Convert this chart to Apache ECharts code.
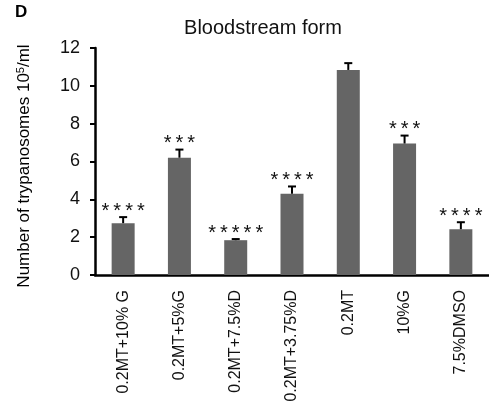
<!DOCTYPE html>
<html>
<head>
<meta charset="utf-8">
<script src="https://cdn.jsdelivr.net/npm/echarts@6/dist/echarts.min.js"></script>
<style>html,body{margin:0;padding:0;background:#fff;}#c{width:489px;height:405px;}</style>
</head>
<body>
<div id="c"></div>
<script>
var categories = ['0.2MT+10% G', '0.2MT+5%G', '0.2MT+7.5%D', '0.2MT+3.75%D', '0.2MT', '10%G', '7.5%DMSO'];
var means = [2.74, 6.2, 1.84, 4.3, 10.84, 6.95, 2.42];
var errors = [0.32, 0.43, 0.06, 0.38, 0.36, 0.42, 0.37];
var stars = ['****', '***', '*****', '****', '', '***', '****'];
var yTicks = [0, 2, 4, 6, 8, 10, 12];

var chart = echarts.init(document.getElementById('c'));
var font = 'Liberation Sans, Arial, sans-serif';
chart.setOption({
  animation: false,
  backgroundColor: '#fff',
  title: {
    text: 'Bloodstream form',
    left: 258, top: 13, textAlign: 'center',
    textStyle: { fontFamily: font, fontSize: 20, fontWeight: 'normal', color: '#111' }
  },
  graphic: [
    { type: 'text', left: 15, top: 4, style: { text: 'D', font: 'bold 17px ' + font, fill: '#000' } },
    { type: 'text', x: 24, y: 166, rotation: Math.PI / 2,
      style: { text: '{a|Number of trypanosomes 10}{s|5}{a|/ml}', align: 'center', verticalAlign: 'middle',
        rich: { a: { fontFamily: font, fontSize: 17, color: '#111' },
                s: { fontFamily: font, fontSize: 11, verticalAlign: 'top', color: '#111', padding: [0, 0, 7, 0] } } } }
  ],
  grid: { left: 95, top: 48, bottom: 130, right: -8, containLabel: false },
  xAxis: {
    type: 'category', data: categories,
    axisLine: { lineStyle: { color: '#000', width: 2.5 } },
    axisTick: { show: false },
    axisLabel: { rotate: 90, interval: 0, margin: 15, fontFamily: font, fontSize: 16, color: '#111' }
  },
  yAxis: {
    type: 'value', min: 0, max: 12, interval: 2,
    axisLine: { show: true, lineStyle: { color: '#000', width: 2.5 } },
    axisTick: { show: true, length: 5, lineStyle: { color: '#000', width: 2 } },
    splitLine: { show: false },
    axisLabel: { margin: 15, fontFamily: font, fontSize: 18, color: '#111',
      formatter: function (v) { return yTicks.indexOf(v) >= 0 ? String(v) : ''; } }
  },
  series: [
    { type: 'bar', data: means, barWidth: 23, itemStyle: { color: '#656565' }, z: 2 },
    {
      type: 'custom', z: 3,
      data: means.map(function (m, i) { return [i, m, m + errors[i]]; }),
      encode: { x: 0, y: [1, 2] },
      renderItem: function (params, api) {
        var i = api.value(0);
        var base = api.coord([i, api.value(1)]);
        var top = api.coord([i, api.value(2)]);
        var hw = 4;
        var children = [
          { type: 'line', shape: { x1: base[0], y1: base[1], x2: top[0], y2: top[1] }, style: { stroke: '#000', lineWidth: 2 } },
          { type: 'line', shape: { x1: top[0] - hw, y1: top[1], x2: top[0] + hw, y2: top[1] }, style: { stroke: '#000', lineWidth: 2 } }
        ];
        var s = stars[i];
        if (s) {
          children.push({ type: 'text', x: top[0], y: top[1] + 4,
            style: { text: s.split('').join('\u2009'), align: 'center', verticalAlign: 'bottom', font: '20px ' + font, fill: '#111' } });
        }
        return { type: 'group', children: children };
      }
    }
  ]
});
</script>
</body>
</html>
